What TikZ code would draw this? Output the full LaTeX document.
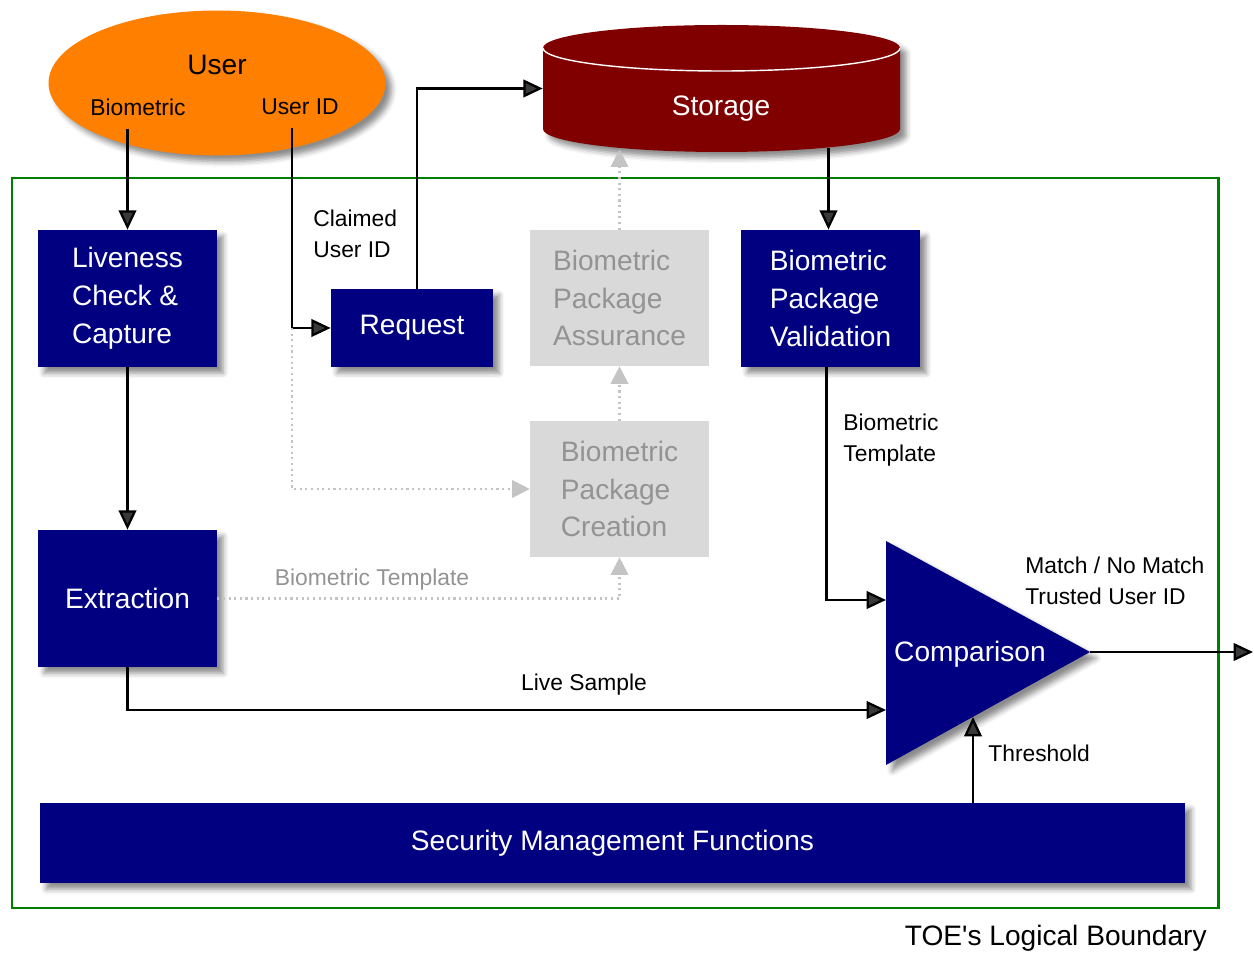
\documentclass[tikz,border=0pt]{standalone}
\usepackage{fontspec}
\setmainfont{Liberation Sans}[Ligatures=TeXOff]
\usetikzlibrary{arrows.meta, shapes.geometric, shadows.blur, calc}

\definecolor{navyblu}{HTML}{000080}
\definecolor{arancio}{HTML}{FF8000}
\definecolor{rossoscuro}{HTML}{800000}
\definecolor{verdebordo}{HTML}{008000}
\definecolor{grigiobox}{HTML}{D9D9D9}
\definecolor{grigiotesto}{HTML}{939393}
\definecolor{grigiolinea}{HTML}{C4C4C4}

\tikzset{
    ombra/.style={blur shadow={shadow xshift=3.5pt, shadow yshift=-3.5pt, shadow blur radius=3pt, shadow opacity=45}},
    blocco/.style={fill=navyblu, text=white, font=\fontsize{16}{21.5}\selectfont, align=left, inner sep=0pt, ombra},
    bloccogrigio/.style={fill=grigiobox, text=grigiotesto, font=\fontsize{16}{21.5}\selectfont, align=left, inner sep=0pt},
    etichetta/.style={font=\fontsize{13}{18}\selectfont, align=left, inner sep=0pt},
    freccia/.style={line width=1.3pt, -{Triangle[length=11pt, width=10pt]}},
    puntini/.style={grigiolinea, line width=1.2pt, dotted, -{Triangle[length=10pt, width=10pt]}}
}

\begin{document}
\begin{tikzpicture}[x=0.02cm, y=-0.02cm]
    \useasboundingbox (0,0) rectangle (1254,955);

    % Confine logico del TOE (verde)
    \draw[verdebordo, line width=1.7pt] (12,178) rectangle (1218,908);
    \node[font=\fontsize{16}{18}\selectfont, anchor=east, inner sep=0pt] (toe) at (1207,938) {TOE's Logical Boundary};

    % Utente (ellisse arancione)
    \node[ellipse, fill=arancio, minimum width=6.74cm, minimum height=2.9cm, ombra] (utente) at (217,83) {};
    \node[font=\fontsize{16}{20}\selectfont, inner sep=0pt] (utentetesto) at (217,65) {User};
    \node[etichetta] (biom) at (138,107) {Biometric};
    \node[etichetta] (uid) at (300,107) {User ID};

    % Archivio (cilindro rosso scuro)
    \node[minimum width=7.14cm, minimum height=2.54cm, inner sep=0pt] (sto) at (721.5,88.5) {};
    \fill[rossoscuro, ombra] (543,48) -- (543,129) arc[start angle=180, end angle=0, x radius=178.5, y radius=23]
        -- (900,48) arc[start angle=0, end angle=-180, x radius=178.5, y radius=23] -- cycle;
    \draw[white, line width=0.8pt] (543,48) arc[start angle=180, end angle=0, x radius=178.5, y radius=23];
    \node[font=\fontsize{16}{20}\selectfont, text=white, inner sep=0pt] (stotesto) at (721,109) {Storage};

    % Blocchi blu
    \node[blocco, minimum width=3.58cm, minimum height=2.74cm] (liv) at (127.5,298.5) {Liveness\\Check \&\\Capture};
    \node[blocco, minimum width=3.24cm, minimum height=1.56cm] (req) at (412,328) {Request};
    \node[blocco, minimum width=3.58cm, minimum height=2.74cm] (val) at (830.5,298.5) {Biometric\\Package\\Validation};
    \node[blocco, minimum width=3.58cm, minimum height=2.74cm] (ext) at (127.5,598.5) {Extraction};
    \node[blocco, minimum width=22.9cm, minimum height=1.6cm, align=center] (sec) at (612.5,843) {Security Management Functions};

    % Blocchi grigi
    \node[bloccogrigio, minimum width=3.58cm, minimum height=2.72cm] (asse) at (619.5,298) {Biometric\\Package\\Assurance};
    \node[bloccogrigio, minimum width=3.58cm, minimum height=2.72cm] (crea) at (619.5,489) {Biometric\\Package\\Creation};

    % Confronto (triangolo)
    \coordinate (cmpA) at (886,541);
    \coordinate (cmpB) at (886,765);
    \coordinate (cmpC) at (1090,652);
    \fill[navyblu, ombra] (cmpA) -- (cmpC) -- (cmpB) -- cycle;
    \node[font=\fontsize{16}{20}\selectfont, text=white, inner sep=0pt] (cmp) at (970,654) {Comparison};
    \coordinate (cmpT) at (886,600);
    \coordinate (cmpL) at (886,710);
    \coordinate (cmpS) at (973,717);
    \coordinate (uscita) at (1253,652);

    % Frecce nere
    \coordinate (biompiede) at ($(biom.south)+(-8,13)$);
    \coordinate (uidpiede) at ($(uid.south)+(-8,13)$);
    \coordinate (bivio) at (uidpiede |- req.west);
    \draw[freccia] (liv.north |- biompiede) -- (liv.north);
    \draw[freccia] (uidpiede) |- (req.west);
    \draw[freccia] ($(req.north)+(5,0)$) |- (sto.west);
    \draw[freccia] ($(sto.south -| val.north)+(-2,-4)$) -- ($(val.north)+(-2,0)$);
    \draw[freccia] (liv.south) -- (ext.north);
    \draw[freccia] ($(val.south)+(-4,0)$) |- (cmpT);
    \draw[freccia] (ext.south) |- (cmpL);
    \draw[freccia] (sec.north -| cmpS) -- (cmpS);
    \draw[freccia] (cmpC) -- (uscita);

    % Frecce grigie tratteggiate
    \draw[puntini] (bivio) |- (crea.west);
    \draw[puntini] (ext.east) -| (crea.south);
    \draw[puntini] (crea.north) -- (asse.south);
    \draw[puntini] (asse.north) -- ($(asse.north |- sto.south)+(0,-3)$);

    % Etichette
    \node[etichetta, anchor=west] (claimed) at (313,234) {Claimed\\User ID};
    \node[etichetta, anchor=west] (templ) at (843,440) {Biometric\\Template};
    \node[etichetta] (live) at (584,685) {Live Sample};
    \node[etichetta, anchor=west] (soglia) at (988,753) {Threshold};
    \node[etichetta, anchor=west] (match) at (1025,581) {Match / No Match\\Trusted User ID};
    \node[etichetta, text=grigiotesto] (templgrigio) at (372,580) {Biometric Template};

\end{tikzpicture}
\end{document}
